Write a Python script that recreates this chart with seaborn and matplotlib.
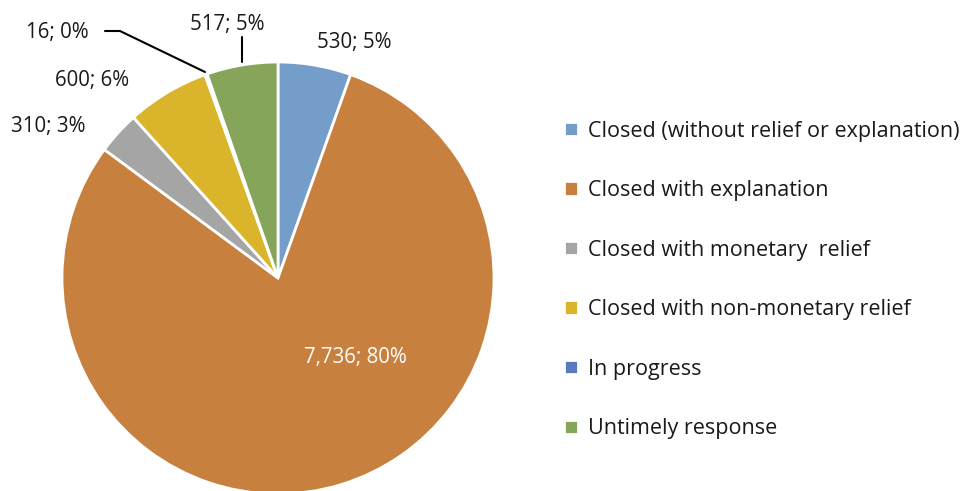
import matplotlib
matplotlib.use('Agg')
import matplotlib.pyplot as plt
import seaborn as sns

# ---- data ----
categories = ['Closed (without relief or explanation)', 'Closed with explanation',
              'Closed with monetary  relief', 'Closed with non-monetary relief',
              'In progress', 'Untimely response']
counts = [530, 7736, 310, 600, 16, 517]
colors = ['#759DC9', '#C8803E', '#A5A5A5', '#DAB52C', '#5B7ABD', '#86A55A']

# label positions (pixel coords, origin bottom-left) chosen to mimic the original
label_pos = [(354, 449), (355, 133), (48, 365), (92, 411), (57, 459), (227, 467)]

sns.set_theme(style='white')
plt.rcParams['font.family'] = ['Open Sans', 'DejaVu Sans']

W, H = 965, 491
fig = plt.figure(figsize=(W / 100, H / 100), dpi=100)
ax = fig.add_axes([0, 0, 1, 1])

cx, cy, r = 278, 213, 216
wedges, _ = ax.pie(counts, colors=colors, startangle=90, counterclock=False,
                   center=(cx, cy), radius=r, frame=True,
                   wedgeprops={'edgecolor': 'white', 'linewidth': 2})
ax.set_xlim(0, W)
ax.set_ylim(0, H)
ax.axis('off')

total = sum(counts)
for i, (v, (x, y)) in enumerate(zip(counts, label_pos)):
    txt = f'{v:,}; {round(v / total * 100):.0f}%'
    ax.text(x, y, txt, ha='center', va='center', fontsize=14.8,
            color='white' if i == 1 else '#1a1a1a')

# leader lines
ax.plot([242, 242], [454, 429], color='black', lw=1.5)
ax.plot([105, 120, 205], [460, 460, 419], color='black', lw=1.5)

leg = ax.legend(wedges, categories, loc='upper left', bbox_to_anchor=(555 / W, 1 - 112 / H),
                frameon=False, fontsize=15.5, labelspacing=1.79,
                handlelength=0.65, handleheight=0.65, handletextpad=0.5,
                borderaxespad=0)
for t in leg.get_texts():
    t.set_color('#1a1a1a')

fig.savefig('out.png', dpi=100)
